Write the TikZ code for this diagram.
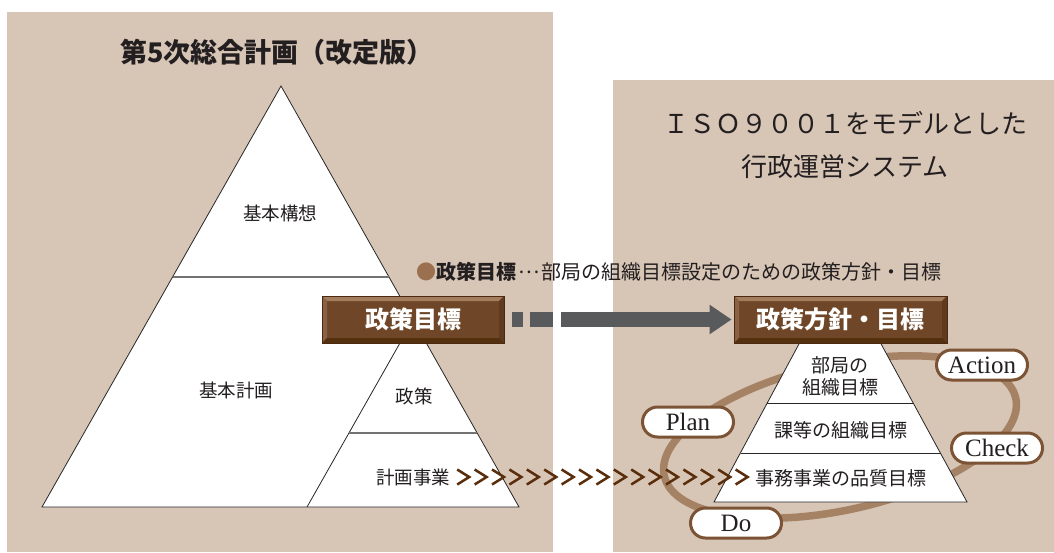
\documentclass[tikz,border=0pt]{standalone}
\usepackage{fontspec}
\setmainfont{Noto Sans CJK JP}
\newfontfamily\pdcafont{Liberation Serif}
\usetikzlibrary{positioning,arrows.meta}
\definecolor{panelbg}{HTML}{D7C5B5}
\definecolor{inkgray}{HTML}{231F20}
\definecolor{boxmid}{HTML}{6F4728}
\definecolor{boxlight}{HTML}{A47D5E}
\definecolor{boxleft}{HTML}{8A6142}
\definecolor{boxright}{HTML}{5F3A1C}
\definecolor{boxdark}{HTML}{55300F}
\definecolor{boxline}{HTML}{4A2A10}
\definecolor{arrowgray}{HTML}{585A5C}
\definecolor{chevbrown}{HTML}{5A2E0C}
\definecolor{ringbrown}{HTML}{A58264}
\definecolor{pillline}{HTML}{7C5334}
\definecolor{dotbrown}{HTML}{9A7050}
\newcommand{\fs}[1]{\fontsize{#1}{#1}\selectfont}

\begin{document}
\begin{tikzpicture}[x=1pt,y=-1pt]
	\tikzstyle{panel}=[fill=panelbg, draw=none]
	\tikzstyle{tier}=[fill=white, draw=black!85, line width=0.8pt]
	\tikzstyle{divide}=[draw=black!55, line width=1.2pt]
	\tikzstyle{title}=[inner sep=0pt, text=inkgray, font=\fs{27}]
	\tikzstyle{label}=[inner sep=0pt, text=inkgray, font=\fs{18.5}]
	\tikzstyle{rlabel}=[inner sep=0pt, text=inkgray, align=center, font=\fontsize{19}{22}\selectfont]
	\tikzstyle{pdca}=[draw=pillline, line width=3pt, fill=white, rounded corners=15pt, minimum width=91pt, minimum height=30pt, inner sep=0pt, text=inkgray, font=\pdcafont\fs{25}]
	\tikzstyle{chevron}=[draw=chevbrown, line width=2.5pt, miter limit=10]
	\tikzstyle{bevelbox}=[draw=boxline, line width=0.8pt, fill=boxmid, text=white, minimum height=47pt, inner sep=0pt, font=\fs{24}\bfseries,
		path picture={
			\path (path picture bounding box.north west) coordinate (bnw)
			      (path picture bounding box.north east) coordinate (bne)
			      (path picture bounding box.south west) coordinate (bsw)
			      (path picture bounding box.south east) coordinate (bse);
			\fill[boxlight] (bnw) -- (bne) -- ([shift={(-5pt,-5pt)}]bne) -- ([shift={(5pt,-5pt)}]bnw) -- cycle;
			\fill[boxleft] (bnw) -- ([shift={(5pt,-5pt)}]bnw) -- ([shift={(5pt,5pt)}]bsw) -- (bsw) -- cycle;
			\fill[boxright] (bne) -- (bse) -- ([shift={(-5pt,5pt)}]bse) -- ([shift={(-5pt,-5pt)}]bne) -- cycle;
			\fill[boxdark] (bsw) -- ([shift={(5pt,5pt)}]bsw) -- ([shift={(-5pt,5pt)}]bse) -- (bse) -- cycle;
		}]
	\useasboundingbox (0,0) rectangle (1054,552);

	% two panels
	\fill[panel] (7,12) rectangle (553,552);
	\fill[panel] (613,80) rectangle (1054,552);

	% left pyramid
	\node[title, font=\fs{27}\bfseries] (plan5) at (277,52) {第5次総合計画（改定版）};
	\draw[tier] (281,86) -- (519,507) -- (42,507) -- cycle;
	\draw[divide] (173,277) -- (389,277);
	\draw[tier, fill=none] (307,507) -- (413,320);
	\draw[divide] (349,433) -- (477,433);
	\node[label] (vision) at (280,213) {基本構想};
	\node[label] (basic) at (236,390) {基本計画};
	\node[label] (policy) at (414,396) {政策};
	\node[label] (work) at (413,477) {計画事業};

	% right titles
	\node[title, font=\fs{26}] (iso) at (845,123) {ＩＳＯ９００１をモデルとした};
	\node[title, font=\fs{26}] (system) [below=19pt of iso] {行政運営システム};

	\node[label, anchor=west, font=\fs{20}] (note) at (416,272)
		{\textcolor{dotbrown}{●}\textbf{政策目標}\kern2pt\raisebox{.32em}{…}\kern2pt 部局の組織目標設定のための政策方針・目標};

	% PDCA ring
	\draw[draw=ringbrown, line width=7.5pt, rotate around={12.5:(840,437)}] (840,437) ellipse [x radius=180, y radius=73];

	% right pyramid
	\draw[tier] (806.5,330) -- (873.5,330) -- (967,502) -- (714,502) -- cycle;
	\draw[tier] (767,403) -- (913,403);
	\draw[tier] (740.5,453) -- (940.5,453);
	\node[rlabel] (dept) at (840,376) {部局の\\組織目標};
	\node[rlabel] (section) at (841,430) {課等の組織目標};
	\node[rlabel] (quality) at (841,478) {事務事業の品質目標};

	% boxes
	\node[bevelbox, minimum width=182pt] (goal) at (413,319.5) {政策目標};
	\node[bevelbox, minimum width=213pt] (aim) at (840.5,319.5) {政策方針・目標};

	\draw[arrowgray, line width=15pt] ([xshift=8pt]goal.east) -- ++(11,0);
	\draw[arrowgray, line width=15pt] ([xshift=26pt]goal.east) -- ++(23,0);
	\draw[arrowgray, line width=15pt, -{Triangle[length=22pt,width=28pt]}] ([xshift=57pt]goal.east) -- ([xshift=-2pt]aim.west);

	% PDCA labels
	\node[pdca] (plan) at (688,422) {Plan};
	\node[pdca] (do) at (736,523) {Do};
	\node[pdca] (check) at (997,448) {Check};
	\node[pdca] (action) at (982,365) {Action};

	% chevrons
	\foreach \k in {0,...,16}
		\draw[chevron] ([xshift={7+17.4*\k}]work.east) ++(0,-7.5) -- ++(12,7.5) -- ++(-12,7.5);
\end{tikzpicture}
\end{document}
